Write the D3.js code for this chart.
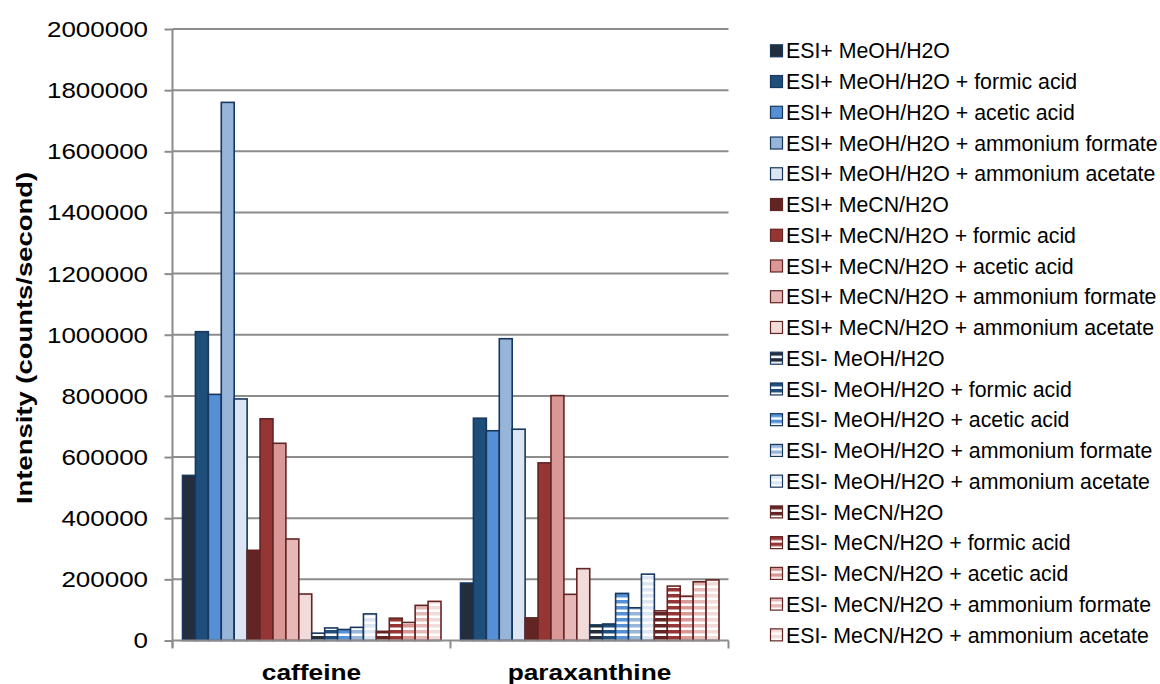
<!DOCTYPE html>
<html>
<head>
<meta charset="utf-8">
<script src="https://cdn.jsdelivr.net/npm/d3@7/dist/d3.min.js"></script>
<style>
  html, body { margin: 0; padding: 0; background: #ffffff; }
  svg { display: block; font-family: "Liberation Sans", Arial, sans-serif; }
</style>
</head>
<body>
<svg id="chart" width="1160" height="684"></svg>
<script>
// Compounds on the category axis
const categories = ["caffeine", "paraxanthine"];

// Ionisation mode / solvent / additive combinations (one bar each per compound)
const seriesNames = [
  "ESI+ MeOH/H2O",
  "ESI+ MeOH/H2O + formic acid",
  "ESI+ MeOH/H2O + acetic acid",
  "ESI+ MeOH/H2O + ammonium formate",
  "ESI+ MeOH/H2O + ammonium acetate",
  "ESI+ MeCN/H2O",
  "ESI+ MeCN/H2O + formic acid",
  "ESI+ MeCN/H2O + acetic acid",
  "ESI+ MeCN/H2O + ammonium formate",
  "ESI+ MeCN/H2O + ammonium acetate",
  "ESI- MeOH/H2O",
  "ESI- MeOH/H2O + formic acid",
  "ESI- MeOH/H2O + acetic acid",
  "ESI- MeOH/H2O + ammonium formate",
  "ESI- MeOH/H2O + ammonium acetate",
  "ESI- MeCN/H2O",
  "ESI- MeCN/H2O + formic acid",
  "ESI- MeCN/H2O + acetic acid",
  "ESI- MeCN/H2O + ammonium formate",
  "ESI- MeCN/H2O + ammonium acetate"
];

// Intensity (counts/second), in series order
const caffeineValues = [
  540000, 1010000, 805000, 1760000, 790000,
  295000, 725000, 645000, 332000, 152000,
  24000, 41000, 36000, 43000, 87000,
  30000, 73000, 59000, 115000, 128000
];
const paraxanthineValues = [
  188000, 727000, 686000, 987000, 691000,
  74000, 581000, 801000, 151000, 235000,
  51000, 54000, 154000, 107000, 217000,
  97000, 178000, 145000, 192000, 198000
];

const yTicks = [0, 200000, 400000, 600000, 800000, 1000000, 1200000, 1400000, 1600000, 1800000, 2000000];

// Fill colours for the five additive variants of each solvent
const blueShades = ["#232d3b", "#1f4e7a", "#5590d6", "#97b4d9", "#dce6f2"];
const redShades  = ["#632523", "#963634", "#d99795", "#e6b8b7", "#f2dcdb"];
const blueEdge = "#17375e";
const redEdge = "#632523";

const valuesByCategory = { caffeine: caffeineValues, paraxanthine: paraxanthineValues };

const svg = d3.select("#chart");

const plotLeft = 172.5, plotRight = 728.5, plotTop = 29, plotBottom = 640.5;

const x0 = d3.scaleBand().domain(categories).range([plotLeft, plotRight]).padding(0);
const bw = x0.bandwidth();
const x1 = d3.scaleBand().domain(seriesNames).range([10, bw - 9.5]).padding(0);
const y = d3.scaleLinear().domain([0, 2000000]).range([plotBottom, plotTop]);

// Per-series styling
const seriesInfo = seriesNames.map((name, i) => {
  const neg = i >= 10;
  const k = i % 10;
  const isBlue = k < 5;
  const color = isBlue ? blueShades[k % 5] : redShades[k % 5];
  return { name, i, neg, color, edge: isBlue ? blueEdge : redEdge };
});

// Horizontal stripe patterns for the negative-mode series
const defs = svg.append("defs");
seriesInfo.filter(s => s.neg).forEach(s => {
  const p = defs.append("pattern")
    .attr("id", "stripe" + s.i)
    .attr("patternUnits", "userSpaceOnUse")
    .attr("width", 8).attr("height", 6);
  p.append("rect").attr("width", 8).attr("height", 6).attr("fill", "#ffffff");
  p.append("rect").attr("width", 8).attr("height", 3.5).attr("fill", s.color);
});
const fillOf = s => s.neg ? `url(#stripe${s.i})` : s.color;

// Gridlines
svg.append("g")
  .selectAll("line")
  .data(yTicks.filter(t => t > 0))
  .join("line")
  .attr("x1", plotLeft).attr("x2", plotRight)
  .attr("y1", d => y(d)).attr("y2", d => y(d))
  .attr("stroke", "#8c8c8c").attr("stroke-width", 2);

// Bars
const groups = svg.append("g")
  .selectAll("g")
  .data(categories)
  .join("g")
  .attr("transform", d => `translate(${x0(d)},0)`);

groups.selectAll("rect")
  .data(c => seriesInfo.map(s => ({ s, v: valuesByCategory[c][s.i] })))
  .join("rect")
  .attr("x", d => x1(d.s.name))
  .attr("y", d => y(d.v))
  .attr("width", x1.bandwidth())
  .attr("height", d => plotBottom - y(d.v))
  .attr("fill", d => fillOf(d.s))
  .attr("stroke", d => d.s.edge)
  .attr("stroke-width", 1.6);

// Y axis
const yAxis = d3.axisLeft(y).tickValues(yTicks).tickSize(8).tickFormat("");
const yg = svg.append("g").attr("transform", `translate(${plotLeft},0)`).call(yAxis);
yg.selectAll("path, line").attr("stroke", "#8c8c8c").attr("stroke-width", 2);
yg.select(".domain").attr("d", `M0,${plotTop}V${plotBottom + 7}`);

// Y tick labels (wide setting)
svg.append("g")
  .selectAll("g")
  .data(yTicks)
  .join("g")
  .attr("transform", d => `translate(148,${y(d)}) scale(1.18,1)`)
  .append("text")
  .attr("text-anchor", "end")
  .attr("dy", "0.36em")
  .attr("font-size", 22)
  .attr("fill", "#000")
  .text(d => d3.format("d")(d));

// X axis
const xAxis = d3.axisBottom(x0).tickSize(8).tickFormat("");
const xg = svg.append("g").attr("transform", `translate(0,${plotBottom})`).call(xAxis);
xg.selectAll(".tick").remove();
xg.select(".domain").attr("stroke", "#8c8c8c").attr("stroke-width", 2)
  .attr("d", `M${plotLeft},0H${plotRight}`);
xg.selectAll("line.sep")
  .data([plotLeft, plotLeft + bw, plotRight])
  .join("line")
  .attr("class", "sep")
  .attr("x1", d => d).attr("x2", d => d)
  .attr("y1", 0).attr("y2", 8)
  .attr("stroke", "#8c8c8c").attr("stroke-width", 2);

// Category labels
svg.append("g")
  .selectAll("g")
  .data(categories)
  .join("g")
  .attr("transform", d => `translate(${x0(d) + bw / 2},680) scale(1.17,1)`)
  .append("text")
  .attr("text-anchor", "middle")
  .attr("font-size", 22.5)
  .attr("font-weight", "bold")
  .attr("fill", "#000")
  .text(d => d);

// Y axis title
svg.append("g")
  .attr("transform", "translate(32,338) rotate(-90) scale(1.22,1)")
  .append("text")
  .attr("text-anchor", "middle")
  .attr("font-size", 22.5)
  .attr("font-weight", "bold")
  .attr("fill", "#000")
  .text("Intensity (counts/second)");

// Legend
const rowStep = 30.74;
const legend = svg.append("g").attr("transform", "translate(770,50.8)");
const rows = legend.selectAll("g")
  .data(seriesInfo)
  .join("g")
  .attr("transform", (d, i) => `translate(0,${i * rowStep})`);
rows.append("rect")
  .attr("x", 0.5).attr("y", -6)
  .attr("width", 12).attr("height", 12)
  .attr("fill", d => fillOf(d))
  .attr("stroke", d => d.edge)
  .attr("stroke-width", 1.2);
rows.append("text")
  .attr("x", 16)
  .attr("dy", "0.36em")
  .attr("font-size", 21.3)
  .attr("fill", "#000")
  .text(d => d.name);
</script>
</body>
</html>
